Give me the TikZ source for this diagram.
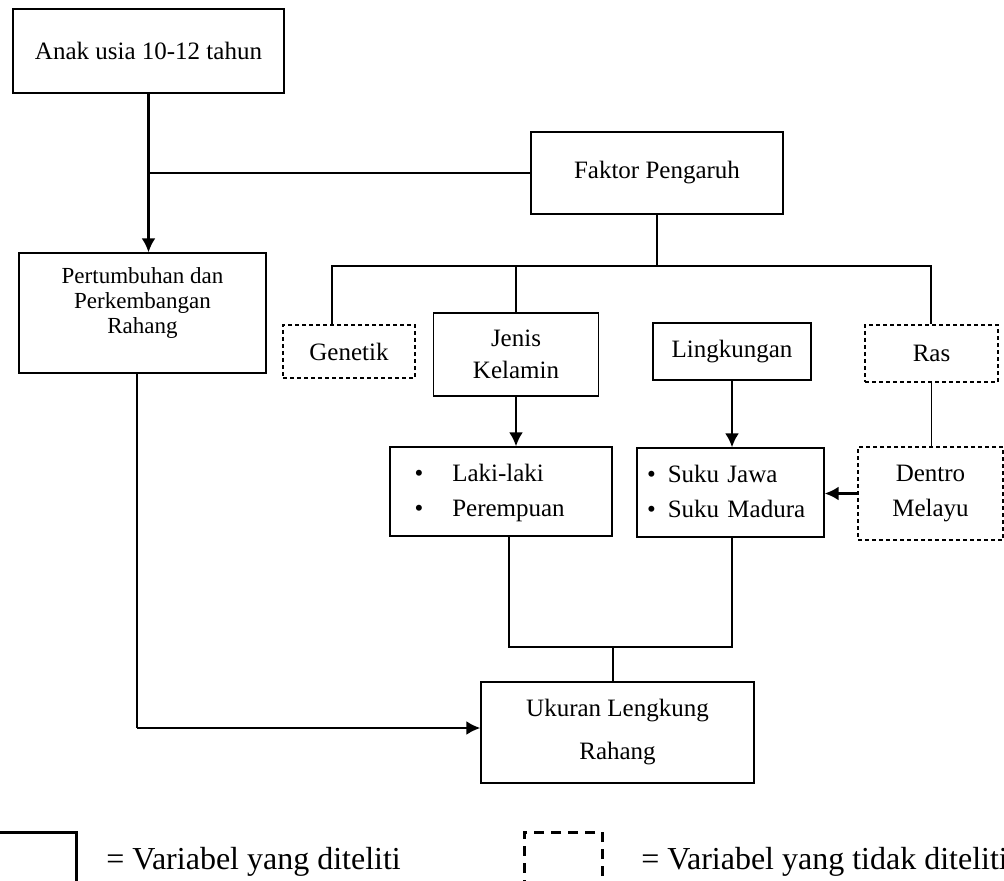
\documentclass[tikz,border=0pt]{standalone}
\usepackage{fontspec}
\setmainfont{Liberation Serif}
\usetikzlibrary{arrows.meta,calc}

\begin{document}
\begin{tikzpicture}[x=0.5pt, y=-0.5pt, font=\fontsize{12.5}{16}\selectfont,
                    box/.style={rectangle, draw, line width=0.7pt, inner sep=0pt, align=center},
                    dbox/.style={box, line width=0.6pt, dash pattern=on 2pt off 1.5pt},
                    link/.style={line width=0.7pt},
                    arr/.style={line width=1.1pt, -{Latex[length=7pt, width=7pt]}},
                    listfont/.style={font=\fontsize{12.5}{17.5}\selectfont},
                    %% legend
                    legtext/.style={anchor=base west, inner sep=0pt, font=\fontsize{16}{19}\selectfont}
                    ]
\clip (0,0) rectangle (1004,881);

\node[box, minimum width=135.5pt, minimum height=42pt] (anak) at (148.5,51) {Anak usia 10-12 tahun};
\node[box, minimum width=126pt, minimum height=41pt] (faktor) at (657,173) {Faktor Pengaruh};
\node[box, minimum width=123.5pt, minimum height=60pt,
      label={[yshift=5pt, align=center, font=\fontsize{11.5}{12.5}\selectfont]center:Pertumbuhan dan\\Perkembangan\\Rahang}] (tumbuh) at (142.5,313) {};

\node[dbox, minimum width=66pt, minimum height=26.5pt] (genetik) at (349,351.5) {Genetik};
\node[box, minimum width=82.5pt, minimum height=41.5pt] (jenis) at (516,354.5) {Jenis\\Kelamin};
\node[box, minimum width=79pt, minimum height=28.5pt] (lingk) at (732,351.5) {Lingkungan};
\node[dbox, minimum width=66.5pt, minimum height=28.5pt] (ras) at (931.5,353.5) {Ras};

\node[box, listfont, minimum height=44.5pt, text width=86.5pt, inner xsep=12.25pt, align=left] (laki) at (501,491.5)
  {\begin{tabular}{@{}l@{\hspace{14.5pt}}l@{}}\textbullet & Laki-laki\\ \textbullet & Perempuan\end{tabular}};
\node[box, listfont, minimum height=44.5pt, text width=83.5pt, inner xsep=5pt, align=left] (suku) at (730.5,492.5)
  {\begin{tabular}{@{}l@{\hspace{6pt}}l@{}}\textbullet & Suku Jawa\\ \textbullet & Suku Madura\end{tabular}};
\node[dbox, listfont, minimum width=72.5pt, minimum height=46.5pt] (dentro) at (930.5,493.5) {Dentro\\Melayu};

\node[box, minimum width=136.5pt, minimum height=50.5pt, font=\fontsize{12.5}{21.5}\selectfont] (ukuran) at (617.5,732.5) {Ukuran Lengkung\\Rahang};

\draw[arr] (anak.south) -- (anak.south |- tumbuh.north);
\draw[link] (faktor.west) -- (faktor.west -| anak.south);

\coordinate (busL) at (332,266);
\coordinate (busR) at (931,266);
\draw[link] (faktor.south) -- (faktor.south |- busL);
\draw[link] (busL |- genetik.north) -- (busL) -- (busR) -- (busR |- ras.north);
\draw[link] (jenis.north |- busL) -- (jenis.north);

\draw[arr] (jenis.south) -- (jenis.south |- laki.north);
\draw[arr] (lingk.south) -- (lingk.south |- suku.north);
\draw[link] (ras.south) -- (ras.south |- dentro.north);
\draw[arr] (dentro.west) -- (dentro.west -| suku.east);

\coordinate (jl) at (509,647);
\coordinate (jr) at (732,647);
\coordinate (jm) at (613,647);
\draw[link] (jl |- laki.south) -- (jl) -- (jr) -- (jr |- suku.south);
\draw[link] (jm) -- (jm |- ukuran.north);

\coordinate (bend) at (137,728);
\draw[link] (bend |- tumbuh.south) -- (bend);
\draw[arr] (bend) -- (bend -| ukuran.west);

%% legend
\node[draw, line width=1.5pt, inner sep=0pt, minimum width=40.5pt, minimum height=34pt] (legA) at (35.5,866) {};
\node[legtext] (legAtext) at (106,869) {= Variabel yang diteliti};
\node[draw, line width=1.5pt, dash pattern=on 5pt off 3.5pt, inner sep=0pt, minimum width=39pt, minimum height=34pt] (legB) at (563,866) {};
\node[legtext] (legBtext) at (641,869) {= Variabel yang tidak diteliti};
\end{tikzpicture}
\end{document}
